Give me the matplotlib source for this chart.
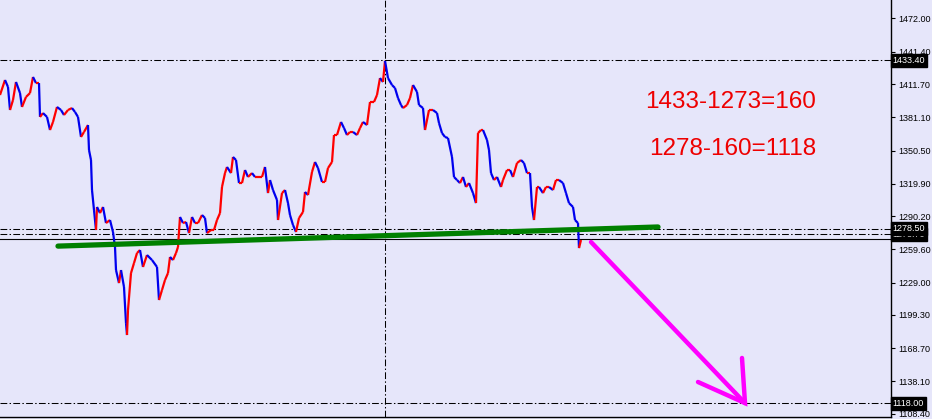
import matplotlib
matplotlib.use("Agg")
import matplotlib.pyplot as plt
import numpy as np

# price path (bar position, close)
bars = [0, 5, 8, 10, 13, 16, 20, 22, 26, 30, 33, 36, 39, 40, 43, 47, 50, 53, 57, 61,
        64, 68, 72, 75, 78, 81, 84, 88, 89, 91, 92, 94, 96, 97, 100, 103, 106, 110, 113, 115,
        116, 119, 121, 124, 126, 127, 128, 131, 134, 137, 140, 143, 147, 152, 157, 159, 162, 165, 168, 170,
        173, 176, 178, 180, 183, 186, 189, 192, 195, 198, 202, 205, 207, 211, 214, 217, 220, 222, 225, 227,
        231, 233, 236, 239, 242, 245, 248, 252, 255, 258, 262, 265, 268, 270, 273, 277, 278, 282, 285, 288,
        290, 293, 296, 299, 303, 305, 308, 312, 315, 318, 322, 325, 328, 332, 334, 337, 341, 344, 347, 350,
        353, 357, 360, 363, 367, 370, 374, 377, 380, 383, 385, 388, 392, 395, 398, 401, 403, 407, 410, 413,
        417, 419, 423, 425, 429, 433, 437, 439, 442, 445, 448, 452, 454, 457, 460, 463, 466, 469, 473, 476,
        478, 481, 483, 487, 489, 491, 494, 497, 501, 503, 507, 510, 513, 517, 521, 524, 527, 530, 532, 534,
        537, 539, 543, 546, 549, 553, 556, 559, 563, 566, 569, 573, 575, 578, 579, 581]
close = [1401.6, 1415.4, 1409.0, 1387.8, 1397.0, 1413.6, 1403.4, 1390.6, 1399.8, 1403.4, 1418.2, 1412.6, 1412.6, 1381.4, 1385.0, 1381.4, 1369.4, 1376.8, 1390.6, 1387.8,
         1383.2, 1387.8, 1389.6, 1386.0, 1381.4, 1363.0, 1367.6, 1374.0, 1351.0, 1341.8, 1314.2, 1295.8, 1277.4, 1298.6, 1293.0, 1298.6, 1283.8, 1286.6, 1275.6, 1261.8,
         1240.6, 1228.6, 1240.6, 1225.0, 1191.8, 1180.8, 1203.8, 1237.8, 1247.0, 1256.2, 1259.0, 1243.4, 1254.4, 1249.8, 1243.4, 1213.0, 1222.2, 1231.4, 1237.8, 1252.6,
         1249.8, 1256.2, 1261.8, 1289.4, 1283.8, 1284.8, 1274.6, 1289.4, 1283.8, 1283.8, 1291.2, 1288.4, 1274.6, 1277.4, 1277.4, 1286.6, 1293.0, 1317.0, 1329.8, 1335.4,
         1329.8, 1344.6, 1341.8, 1320.6, 1320.6, 1332.6, 1326.2, 1329.8, 1326.2, 1326.2, 1326.2, 1335.4, 1311.4, 1323.4, 1314.2, 1305.0, 1286.6, 1311.4, 1314.2, 1302.2,
         1291.2, 1282.0, 1275.6, 1288.4, 1294.0, 1312.4, 1309.6, 1330.8, 1340.0, 1334.4, 1321.6, 1321.6, 1334.4, 1340.0, 1364.8, 1364.8, 1376.8, 1371.2, 1364.8, 1367.6,
         1367.6, 1364.8, 1371.2, 1376.8, 1374.0, 1395.2, 1395.2, 1401.6, 1417.2, 1413.6, 1433.0, 1417.2, 1410.8, 1408.0, 1398.8, 1392.4, 1389.6, 1392.4, 1398.8, 1410.8,
         1404.4, 1392.4, 1389.6, 1369.4, 1387.8, 1387.8, 1385.0, 1375.8, 1366.6, 1363.0, 1362.0, 1344.6, 1326.2, 1323.4, 1320.6, 1326.2, 1317.0, 1320.6, 1311.4, 1302.2,
         1366.6, 1369.4, 1369.4, 1360.2, 1351.0, 1329.8, 1323.4, 1326.2, 1317.0, 1323.4, 1332.6, 1332.6, 1326.2, 1339.0, 1341.8, 1339.0, 1329.8, 1329.8, 1298.6, 1286.6,
         1317.0, 1317.0, 1311.4, 1317.0, 1317.0, 1314.2, 1323.4, 1323.4, 1320.6, 1311.4, 1302.2, 1298.6, 1286.6, 1283.8, 1260.8, 1268.2]

yticks = [1472.00, 1441.40, 1411.70, 1381.10, 1350.50, 1319.90, 1290.20, 1259.60, 1229.00, 1199.30, 1168.70, 1138.10, 1108.40]
hlines = [1433.40, 1278.50, 1273.70, 1118.00]
bid = 1269.1
vline_bar = 385

trend_x = [58, 658]
trend_p = [1262.6, 1280.2]
arrow_x = [591, 745]
arrow_p = [1266.4, 1118.2]
head_x = [742, 745, 698]
head_p = [1159.7, 1118.2, 1137.6]

notes = ["1433-1273=160", "1278-160=1118"]

bg = "#E6E6FA"
W, H = 932, 419
fig = plt.figure(figsize=(W/100, H/100), dpi=100, facecolor=bg)
ax = fig.add_axes([0, 2/H, 891/W, 417/H], facecolor=bg)
ax.set_xlim(0, 891)
ax.set_ylim(1105.4, 1489.0)

dd = (0, (6.5, 2.2, 1.4, 2.2))
for p in hlines:
    ax.axhline(p, color="black", lw=0.75, linestyle=dd, zorder=1)
ax.axhline(bid, color="black", lw=0.8, zorder=1)
ax.axvline(vline_bar, color="black", lw=0.75, linestyle=dd, zorder=1)

# price line: red when rising, blue when falling
for i in range(1, len(bars)):
    c = "#FF0000" if close[i] >= close[i-1] else "#0000EE"
    ax.plot(bars[i-1:i+1], close[i-1:i+1], color=c, lw=1.6, zorder=3,
            solid_capstyle="butt")

ax.plot(trend_x, trend_p, color="#008000", lw=3.8, solid_capstyle="round", zorder=4)
ax.plot(arrow_x, arrow_p, color="#FF00FF", lw=3.2, solid_capstyle="round", zorder=4)
ax.plot(head_x, head_p, color="#FF00FF", lw=3.2, solid_capstyle="round",
        solid_joinstyle="miter", zorder=4)

ax.text(731, 1395.5, notes[0], color="#EE0000", fontsize=17.5, family="Liberation Sans",
        ha="center", va="center")
ax.text(733, 1352.0, notes[1], color="#EE0000", fontsize=17.5, family="Liberation Sans",
        ha="center", va="center")

for s in ["top", "left"]:
    ax.spines[s].set_visible(False)
ax.spines["right"].set_linewidth(1.0)
ax.spines["bottom"].set_linewidth(1.0)
ax.set_xticks([])
ax.yaxis.tick_right()
ax.set_yticks(yticks)
ax.set_yticklabels([f"{t:.2f}" for t in yticks], family="Liberation Sans", fontsize=6.5)
ax.tick_params(axis="y", length=3, width=0.8, pad=2.5, colors="black")

# highlighted price labels on the scale
for p in [1273.70, 1278.50, 1433.40, 1118.00]:
    ax.text(892.5, p, f"{p:.2f}", color="white", fontsize=6.5, family="Liberation Sans",
            ha="left", va="center", clip_on=False, zorder=6,
            bbox=dict(boxstyle="square,pad=0.22", fc="black", ec="black"))

fig.savefig("out.png", dpi=100, facecolor=bg)
